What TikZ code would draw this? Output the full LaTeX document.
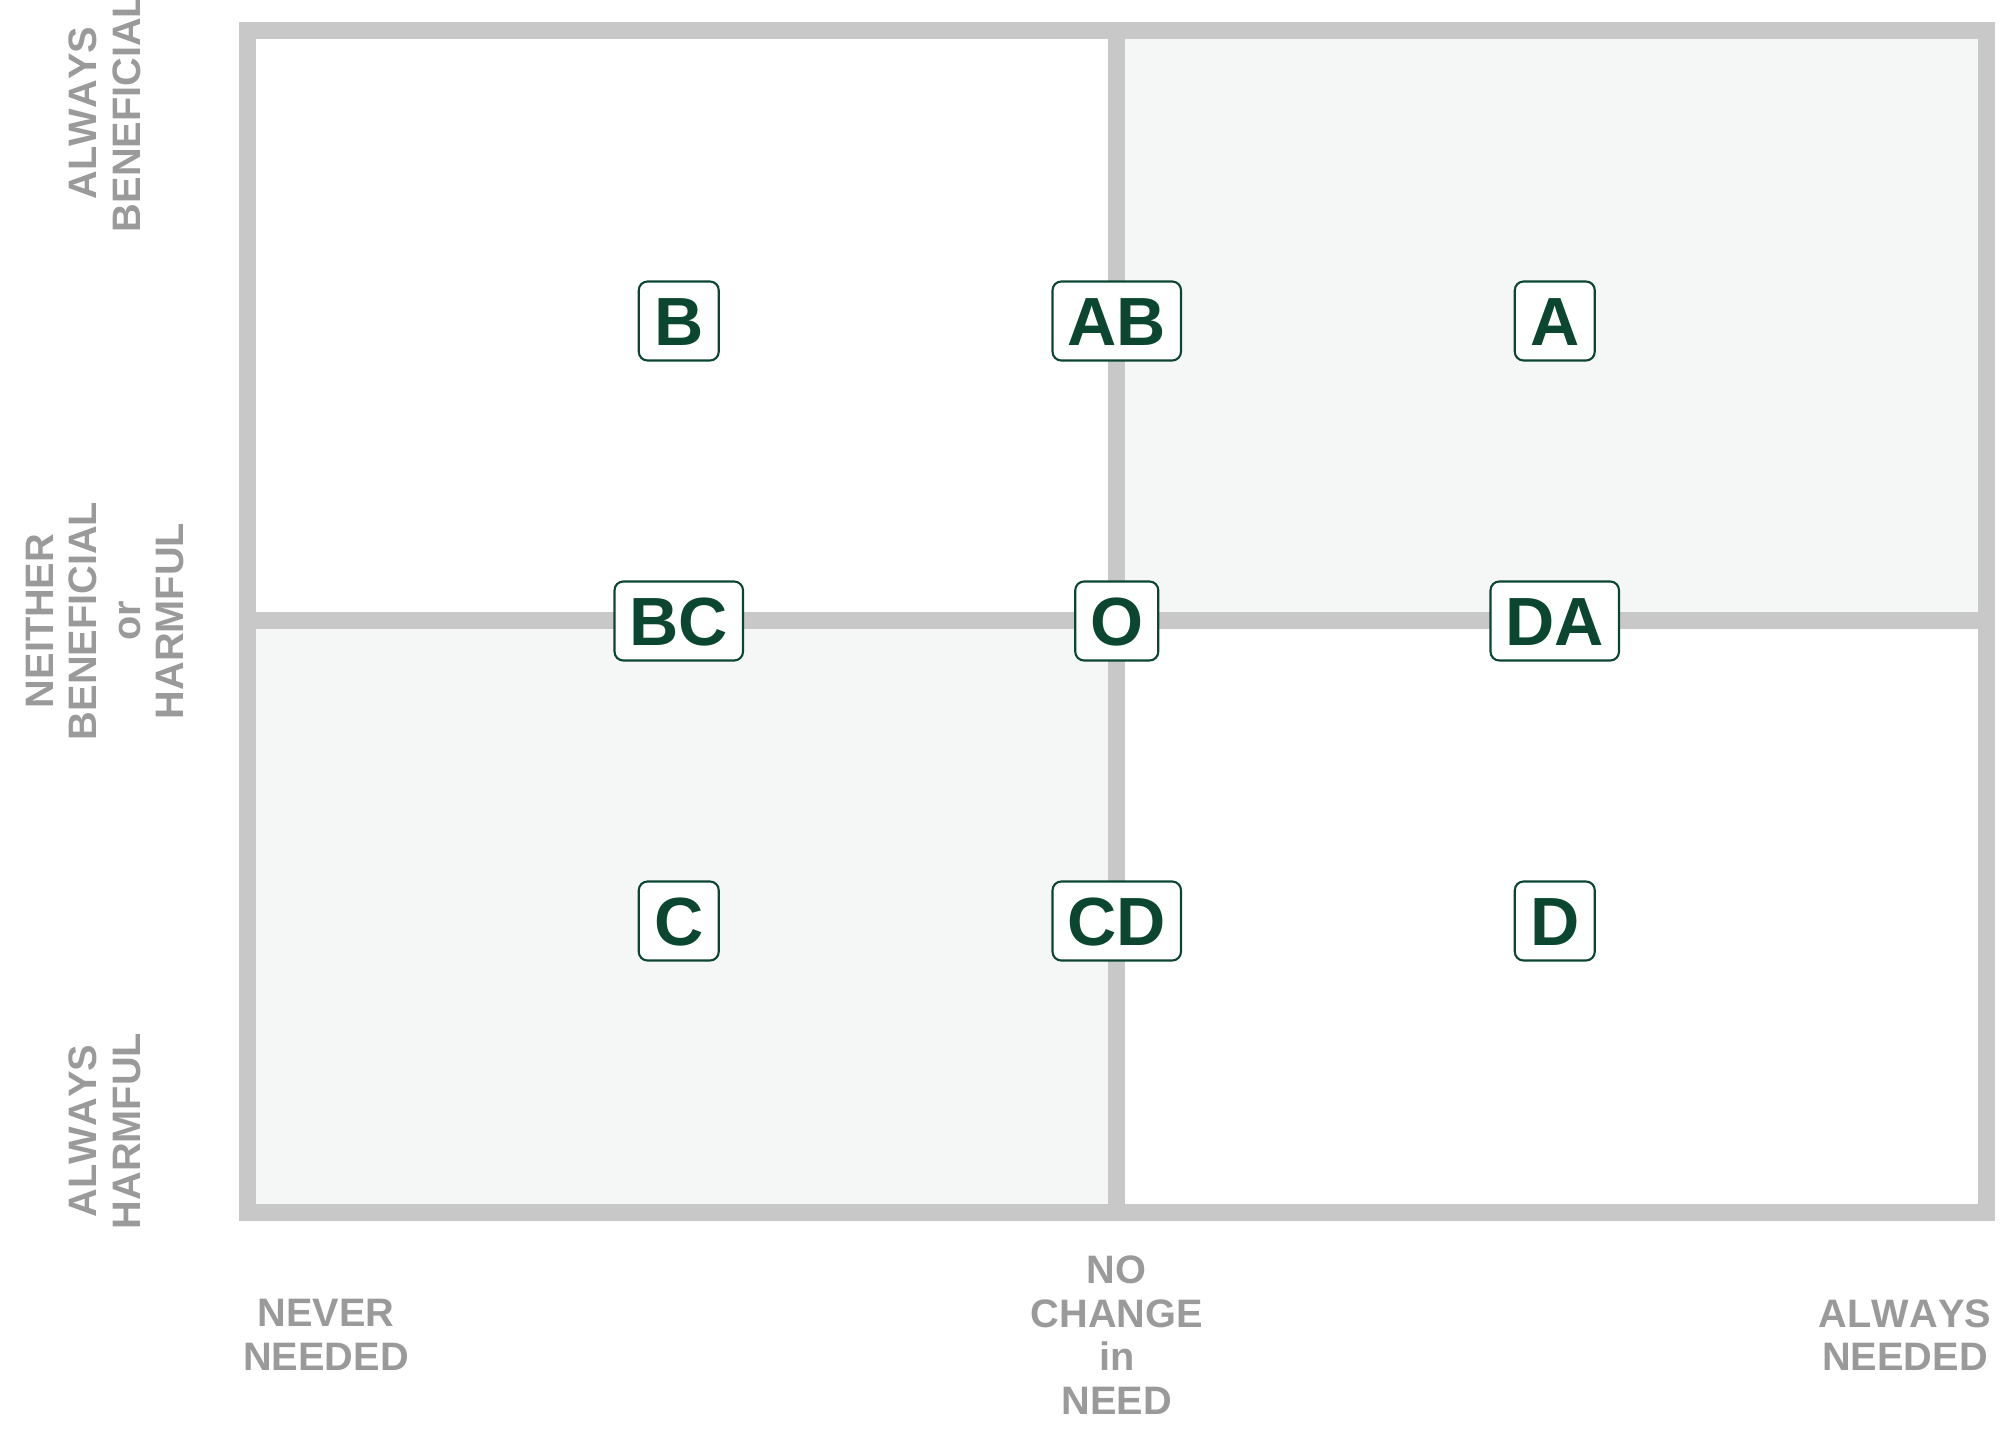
\documentclass[tikz,border=0pt]{standalone}
\usepackage{fontspec}
\setmainfont[Kerning=Off]{Liberation Sans}
\definecolor{linha}{HTML}{C8C8C8}
\definecolor{rotulo}{HTML}{9A9A9A}
\definecolor{verde}{HTML}{0B4631}
\definecolor{fundo}{HTML}{F5F7F6}
\tikzset{
  caixa/.style={draw=verde, line width=0.6pt, fill=white, rounded corners=2.5pt,
    text=verde, font=\fontsize{19.4}{19.4}\selectfont\bfseries,
    inner sep=0.15cm, text height=0.49cm, text depth=0cm, minimum width=0.8cm},
  eixo/.style={text=rotulo, font=\fontsize{11.3}{12.4}\selectfont\bfseries, align=center},
  grade/.style={linha, line width=0.17cm}
}
\begin{document}
\begin{tikzpicture}
    \useasboundingbox (0,0) rectangle (20.16,14.4);
    % Quadrantes sombreados
    \fill[fundo] (11.1675,8.19) rectangle (19.86,14.097);
    \fill[fundo] (2.475,2.28) rectangle (11.1675,8.19);
    % Moldura e linhas centrais
    \draw[grade] (2.475,2.28) rectangle (19.86,14.097);
    \draw[grade] (11.1675,2.28) -- (11.1675,14.097);
    \draw[grade] (2.475,8.19) -- (19.86,8.19);
    % Linha de cima
    \node[caixa] (B) at (6.7875,11.19) {B};
    \node[caixa] (AB) at (11.1675,11.19) {AB};
    \node[caixa] (A) at (15.5475,11.19) {A};
    % Linha do meio
    \node[caixa] (BC) at (6.7875,8.19) {BC};
    \node[caixa] (O) at (11.1675,8.19) {O};
    \node[caixa] (DA) at (15.5475,8.19) {DA};
    % Linha de baixo
    \node[caixa] (C) at (6.7875,5.19) {C};
    \node[caixa] (CD) at (11.1675,5.19) {CD};
    \node[caixa] (D) at (15.5475,5.19) {D};
    % Rotulos do eixo vertical
    \node[eixo, rotate=90] (benefico) at (1.05,13.27) {ALWAYS\\BENEFICIAL};
    \node[eixo, rotate=90] (neutro) at (1.05,8.19) {NEITHER\\BENEFICIAL\\or\\HARMFUL};
    \node[eixo, rotate=90] (nocivo) at (1.05,3.09) {ALWAYS\\HARMFUL};
    % Rotulos do eixo horizontal
    \node[eixo] (nunca) at (3.26,1.05) {NEVER\\NEEDED};
    \node[eixo] (igual) at (11.1675,1.05) {NO\\CHANGE\\in\\NEED};
    \node[eixo] (sempre) at (19.05,1.05) {ALWAYS\\NEEDED};
\end{tikzpicture}
\end{document}
